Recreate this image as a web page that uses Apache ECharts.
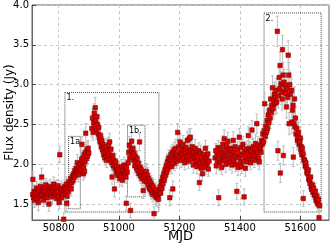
<!DOCTYPE html>
<html><head><meta charset="utf-8">
<script src="https://cdn.jsdelivr.net/npm/echarts/dist/echarts.min.js"></script>
<style>html,body{margin:0;padding:0;background:#fff}#c{width:336px;height:249px}</style>
</head><body><div id="c"></div>
<script>
const mjd = [
50714,50715,50717,50719,50721,50723,50725,50727,50729,50731,
50733,50735,50737,50739,50741,50743,50744,50746,50748,50750,
50752,50754,50756,50758,50760,50762,50764,50766,50768,50770,
50772,50774,50776,50778,50780,50782,50784,50786,50788,50790,
50792,50794,50796,50798,50800,50802,50804,50806,50808,50810,
50812,50814,50817,50818,
50820,50822,50824,50826,50827,50828,50830,50832,50834,50836,
50838,50840,50842,50844,50846,50848,50850,50852,50854,50856,
50858,50860,50862,50864,50866,50868,50870,
50872,50874,50876,50877,50879,50881,50882,50883,50885,50886,
50887,50889,50890,50892,50894,50896,50898,50900,
50910,50912,50914,50916,50918,50920,50921,50923,50925,50927,
50929,50931,50933,50935,
50937,50939,50941,50943,50945,50947,50949,50951,50953,50955,
50957,50959,50961,50963,50965,50967,50969,50971,50973,50975,
50977,50979,50981,50983,50985,50987,50989,50991,50993,50995,
50997,50999,
51001,51003,51005,51007,51009,51011,51013,51015,51017,51019,
51021,51023,51024,51025,51027,
51030,51032,51034,51036,51038,51040,51042,51044,51046,51048,
51050,51052,51054,51056,51058,51060,51062,51064,51066,51068,
51070,51072,51074,51076,51078,51080,51082,51084,51086,
51088,51090,51092,51094,51096,51098,51100,51102,51104,51106,
51108,51110,51112,51114,51116,51118,51120,51122,51124,51126,
51128,51130,51132,
51134,51136,51138,51140,51142,51144,51146,51148,51150,51152,
51154,51156,51158,51160,51162,51164,51166,51168,51170,51172,
51174,51176,51178,51180,51182,51184,51186,51188,51190,51192,
51194,51196,
51198,51200,51202,51204,51206,51208,51210,51212,51214,51216,
51218,51220,51222,51224,51226,51228,51230,51232,51234,51236,
51238,51240,51242,51244,51246,51248,51250,51252,51254,51256,
51258,51260,51262,51264,51266,51268,51270,51272,51274,51276,
51278,51280,51282,51284,51286,51288,51290,51292,51294,51296,
51298,
51318,51320,51322,51324,51326,51328,51330,51332,51334,51336,
51338,51340,51342,51344,51346,51348,51350,51352,51354,51356,
51358,51360,51362,51364,51366,51368,
51370,51372,51374,51376,51378,51380,51382,51384,51386,51388,
51390,51392,51394,51396,51398,51400,51402,51404,51406,51408,
51410,51412,51414,51416,51418,51420,51422,51424,51426,51428,
51430,51432,51434,51436,51438,51440,51442,51444,51446,51448,
51450,51452,51454,51456,51458,51460,51462,51464,51466,
51468,51470,51472,51474,51476,51478,51480,51482,51484,51486,
51488,51490,51492,51494,51496,51498,51500,51502,51504,51506,
51508,51510,51512,51514,51516,51518,51520,51522,51524,51526,
51528,51530,51532,51533,51534,51536,51538,51540,
51541,51543,51544,51546,51548,51550,51552,51554,51556,51558,
51560,51562,51563,51565,51567,
51571,51572,51574,51576,51577,51579,51581,51582,51584,51586,
51588,51590,51592,51594,51596,51598,51600,51602,51603,51605,
51607,51609,51610,51612,51614,51616,51618,51620,51622,51624,
51626,51628,51630,51632,51634,51636,51638,51640,51642,51644,
51646,51648,51650,51652,51653,51655,51657,51659,51660,51662,
51664
];
const flux = [
1.62,1.81,1.58,1.66,1.55,1.64,1.60,1.70,1.57,1.63,
1.52,1.67,1.61,1.72,1.59,1.65,1.84,1.62,1.68,1.55,
1.71,1.64,1.60,1.74,1.66,1.58,1.69,1.63,1.50,1.67,
1.72,1.61,1.65,1.70,1.59,1.66,1.75,1.62,1.68,1.64,
1.71,1.57,1.66,1.73,1.60,1.52,2.12,1.65,1.70,1.58,
1.67,1.62,1.31,1.68,
1.72,1.64,1.69,1.75,1.51,1.60,1.71,1.66,1.78,1.70,
1.74,1.82,1.69,1.77,1.85,1.80,1.88,1.84,1.92,1.86,
1.95,1.89,2.02,1.93,1.87,1.97,1.91,
2.00,1.94,2.06,2.25,1.98,2.08,1.88,1.96,2.12,1.91,
2.03,2.15,2.39,2.07,2.18,2.10,2.20,2.14,
2.45,2.58,2.40,2.52,2.64,2.48,2.71,2.55,2.42,2.60,
2.50,2.38,2.46,2.33,
2.28,2.36,2.22,2.30,2.18,2.25,2.12,2.20,2.08,2.15,
2.22,2.05,2.17,2.10,2.24,2.13,2.28,2.06,2.19,2.02,
1.84,2.11,1.98,2.05,1.69,1.95,2.03,1.90,1.97,1.86,
1.93,1.88,
1.95,1.82,1.90,1.86,1.97,1.80,1.92,1.85,1.99,1.88,
1.93,1.84,1.51,1.96,1.90,
2.02,2.15,2.24,2.08,1.42,2.18,2.29,2.12,2.20,2.05,
2.14,1.98,2.10,2.03,1.95,2.07,1.92,2.01,1.88,2.28,
1.96,1.85,1.93,1.82,1.90,1.67,1.86,1.79,1.88,
1.83,1.91,1.78,1.86,1.74,1.82,1.70,1.79,1.68,1.76,
1.65,1.73,1.62,1.71,1.38,1.66,1.60,1.68,1.58,1.64,
1.61,1.56,1.63,
1.66,1.72,1.64,1.78,1.70,1.83,1.76,1.88,1.80,1.93,
1.86,1.98,1.90,2.03,1.94,2.08,1.99,1.58,2.05,2.12,
1.97,2.15,1.69,2.06,2.18,2.01,2.10,2.20,2.04,2.13,
2.40,2.08,
2.22,2.10,2.28,2.15,2.05,2.19,2.12,2.25,2.08,2.17,
2.02,2.14,2.21,2.09,2.30,2.16,2.04,2.32,2.11,2.34,
2.18,2.06,2.22,2.13,1.99,2.15,2.08,2.20,2.03,2.12,
1.97,2.10,2.05,2.17,1.77,2.01,2.14,1.95,2.08,1.88,
2.02,2.12,1.98,2.06,2.20,1.96,2.09,2.01,2.13,1.94,
2.04,
2.08,2.17,1.98,2.11,2.04,2.21,1.58,2.14,2.02,2.19,
2.07,1.96,2.13,2.25,2.05,2.32,2.10,2.18,2.00,2.23,
2.12,2.29,2.06,2.16,2.02,2.20,
2.08,2.18,1.99,2.12,2.30,2.05,2.15,2.22,2.00,2.10,
1.66,2.19,1.96,2.08,2.34,2.13,2.02,2.21,1.97,2.11,
2.25,2.04,1.59,2.16,1.95,2.09,2.19,2.03,2.14,2.36,
2.07,2.20,2.11,2.02,2.17,2.43,2.09,2.22,2.13,2.05,
2.19,2.26,2.10,2.51,2.16,2.24,2.08,2.03,2.20,
2.22,2.15,2.30,2.25,2.38,2.28,2.42,2.76,2.35,2.48,
2.40,2.55,2.45,2.62,2.52,2.68,2.58,2.82,2.65,2.74,
2.96,2.70,2.80,2.88,2.76,2.84,2.93,2.78,3.67,2.17,
2.86,3.09,2.95,3.24,1.89,3.01,2.90,2.82,
3.44,3.12,2.11,3.03,2.92,2.99,2.89,2.72,2.95,2.84,
3.37,3.12,2.51,3.00,2.88,
2.93,2.53,2.68,2.74,2.09,2.51,2.82,2.47,2.58,2.38,
2.45,2.30,2.34,2.40,2.25,2.28,2.33,2.18,2.22,2.12,
2.20,2.13,1.57,2.06,2.05,1.98,2.02,1.96,1.90,1.88,
1.93,1.82,1.80,1.76,1.84,1.71,1.68,1.74,1.65,1.70,
1.62,1.61,1.66,1.57,1.54,1.60,1.52,1.50,1.56,1.33,
1.48
];
const fluxErr = [
0.08,0.10,0.09,0.08,0.09,0.08,0.10,0.08,0.09,0.08,
0.10,0.09,0.08,0.09,0.08,0.09,0.11,0.08,0.09,0.08,
0.09,0.08,0.09,0.08,0.09,0.08,0.10,0.08,0.09,0.08,
0.09,0.08,0.09,0.08,0.09,0.08,0.09,0.08,0.09,0.08,
0.09,0.08,0.09,0.08,0.09,0.08,0.10,0.08,0.09,0.08,
0.09,0.08,0.08,0.09,
0.08,0.09,0.08,0.09,0.10,0.08,0.09,0.08,0.09,0.08,
0.09,0.08,0.09,0.08,0.09,0.08,0.09,0.08,0.09,0.08,
0.09,0.08,0.10,0.08,0.09,0.08,0.09,
0.09,0.08,0.09,0.10,0.08,0.09,0.08,0.09,0.10,0.08,
0.09,0.10,0.12,0.09,0.10,0.09,0.10,0.09,
0.11,0.12,0.10,0.11,0.12,0.10,0.13,0.11,0.10,0.12,
0.11,0.10,0.11,0.10,
0.10,0.11,0.09,0.10,0.09,0.10,0.09,0.10,0.09,0.10,
0.10,0.09,0.10,0.09,0.10,0.09,0.11,0.09,0.10,0.09,
0.09,0.10,0.09,0.10,0.10,0.09,0.10,0.09,0.10,0.09,
0.10,0.09,
0.09,0.08,0.09,0.08,0.09,0.08,0.09,0.08,0.10,0.08,
0.09,0.08,0.09,0.10,0.09,
0.09,0.10,0.11,0.09,0.09,0.10,0.11,0.09,0.10,0.09,
0.10,0.09,0.10,0.09,0.09,0.10,0.09,0.10,0.09,0.11,
0.09,0.09,0.10,0.09,0.09,0.10,0.09,0.09,0.10,
0.09,0.10,0.09,0.10,0.09,0.10,0.09,0.10,0.09,0.10,
0.09,0.10,0.09,0.10,0.09,0.09,0.10,0.09,0.10,0.09,
0.09,0.10,0.09,
0.09,0.10,0.09,0.10,0.09,0.10,0.09,0.10,0.09,0.10,
0.09,0.10,0.09,0.10,0.09,0.10,0.09,0.10,0.09,0.10,
0.09,0.10,0.10,0.09,0.10,0.09,0.10,0.11,0.09,0.10,
0.11,0.10,
0.10,0.09,0.11,0.10,0.09,0.10,0.09,0.11,0.10,0.09,
0.09,0.10,0.11,0.09,0.11,0.10,0.09,0.12,0.10,0.11,
0.10,0.09,0.10,0.09,0.10,0.09,0.10,0.11,0.09,0.10,
0.09,0.10,0.09,0.10,0.10,0.09,0.10,0.09,0.10,0.09,
0.10,0.09,0.10,0.09,0.10,0.09,0.10,0.09,0.10,0.09,
0.10,
0.10,0.09,0.10,0.09,0.10,0.09,0.10,0.09,0.10,0.09,
0.10,0.09,0.10,0.11,0.09,0.11,0.10,0.09,0.10,0.11,
0.10,0.11,0.09,0.10,0.09,0.10,
0.10,0.09,0.10,0.09,0.11,0.10,0.09,0.10,0.09,0.10,
0.10,0.09,0.10,0.09,0.11,0.10,0.09,0.10,0.09,0.10,
0.10,0.09,0.10,0.09,0.10,0.09,0.10,0.09,0.10,0.11,
0.10,0.09,0.10,0.09,0.10,0.12,0.10,0.11,0.10,0.09,
0.10,0.11,0.10,0.12,0.10,0.11,0.10,0.10,0.11,
0.10,0.11,0.11,0.10,0.12,0.11,0.12,0.14,0.11,0.12,
0.12,0.13,0.12,0.13,0.12,0.14,0.13,0.14,0.13,0.14,
0.15,0.13,0.14,0.15,0.14,0.15,0.15,0.14,0.19,0.12,
0.15,0.16,0.15,0.17,0.12,0.16,0.15,0.14,
0.18,0.16,0.12,0.16,0.15,0.16,0.15,0.14,0.15,0.14,
0.18,0.16,0.14,0.16,0.15,
0.15,0.14,0.14,0.15,0.12,0.13,0.15,0.13,0.14,0.13,
0.13,0.12,0.13,0.13,0.12,0.12,0.13,0.12,0.12,0.11,
0.12,0.11,0.10,0.11,0.11,0.10,0.11,0.10,0.10,0.10,
0.10,0.09,0.10,0.09,0.10,0.09,0.09,0.10,0.09,0.09,
0.09,0.09,0.10,0.09,0.08,0.09,0.08,0.09,0.08,0.08,
0.08
];
const xTicks = [50800, 51000, 51200, 51400, 51600];
const yTicks = [1.5, 2.0, 2.5, 3.0, 3.5, 4.0];
const boxLabels = ['1.', '1a.', '1b.', '2.'];
const boxMjd = [[50821, 51132], [50833, 50872], [51028, 51086], [51480, 51669]];
const boxFlux = [[1.40, 2.90], [1.44, 2.35], [1.59, 2.49], [1.40, 3.90]];

const n = Math.min(mjd.length, flux.length, fluxErr.length);
const pts = [];
for (let i = 0; i < n; i++) pts.push([mjd[i], flux[i], fluxErr[i]]);

const areas = boxLabels.map((lab, i) => [
  {name: lab, coord: [boxMjd[i][0], boxFlux[i][1]]},
  {coord: [boxMjd[i][1], boxFlux[i][0]]}
]);

const font = 'DejaVu Sans';
const chart = echarts.init(document.getElementById('c'), null, {renderer: 'canvas'});
chart.setOption({
  animation: false,
  backgroundColor: '#fff',
  grid: {left: 32, right: 7, top: 5, bottom: 29, containLabel: false, outerBoundsMode: 'none',
    show: true, borderColor: '#666', borderWidth: 1},
  xAxis: {
    type: 'value', min: 50712, max: 51695,
    name: 'MJD', nameLocation: 'middle', nameGap: 10, nameMoveOverlap: false,
    nameTextStyle: {fontFamily: font, fontSize: 13, color: '#000'},
    axisLine: {show: true, lineStyle: {color: '#666'}},
    axisTick: {show: true, inside: true, length: 4, customValues: xTicks, lineStyle: {color: '#444'}},
    axisLabel: {customValues: xTicks, fontFamily: font, fontSize: 10, color: '#000', margin: 3,
      formatter: v => String(v)},
    splitLine: {show: true, lineStyle: {color: '#c8c8c8', type: [3, 3]}}
  },
  yAxis: {
    type: 'value', min: 1.3, max: 4.0,
    name: 'Flux density (Jy)', nameLocation: 'middle', nameGap: 16, nameMoveOverlap: false,
    nameTextStyle: {fontFamily: font, fontSize: 12, color: '#000'},
    axisLine: {show: true, lineStyle: {color: '#666'}},
    axisTick: {show: true, inside: true, length: 4, customValues: yTicks, lineStyle: {color: '#444'}},
    axisLabel: {customValues: yTicks, fontFamily: font, fontSize: 10, color: '#000', margin: 3,
      formatter: v => v.toFixed(1)},
    splitLine: {show: true, lineStyle: {color: '#c8c8c8', type: [3, 3]}}
  },
  series: [
    {
      type: 'custom', clip: true, z: 1,
      data: pts,
      renderItem: function (params, api) {
        const x = api.value(0), y = api.value(1), e = api.value(2);
        const t = api.coord([x, y + e]), b = api.coord([x, y - e]);
        const st = {stroke: '#bdbdbd', lineWidth: 1};
        return {type: 'group', children: [
          {type: 'line', shape: {x1: t[0], y1: t[1], x2: b[0], y2: b[1]}, style: st},
          {type: 'line', shape: {x1: t[0] - 1.5, y1: t[1], x2: t[0] + 1.5, y2: t[1]}, style: st},
          {type: 'line', shape: {x1: b[0] - 1.5, y1: b[1], x2: b[0] + 1.5, y2: b[1]}, style: st}
        ]};
      }
    },
    {
      type: 'scatter', z: 3,
      symbol: 'rect', symbolSize: 4.5,
      data: pts.map(p => [p[0], p[1]]),
      itemStyle: {color: '#dd0000', borderColor: '#6a0000', borderWidth: 0.5, opacity: 1},
      markArea: {
        silent: true,
        itemStyle: {color: 'rgba(0,0,0,0)', borderColor: '#444', borderWidth: 1, borderType: [1, 1]},
        label: {show: true, position: 'insideTopLeft', distance: 2, fontFamily: font, fontSize: 8, color: '#000'},
        data: areas
      }
    }
  ]
});
</script>
</body></html>
